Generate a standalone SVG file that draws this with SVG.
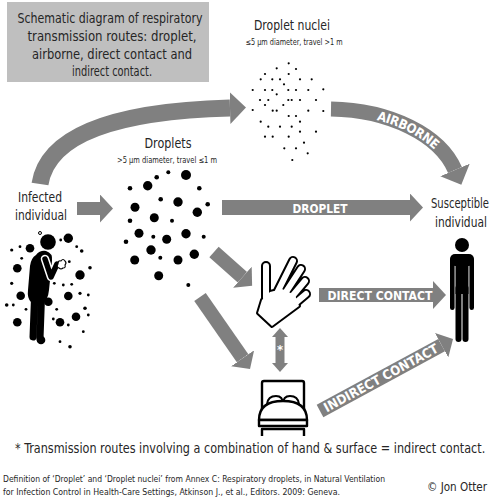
<svg xmlns="http://www.w3.org/2000/svg" width="492" height="504" viewBox="0 0 492 504">
<style>
.lbl{font-family:"DejaVu Sans Condensed","DejaVu Sans",sans-serif;font-stretch:condensed;fill:#262626}
.arw{fill:none;stroke:#808080;stroke-linecap:butt}
.atx{font-family:"DejaVu Sans Condensed","DejaVu Sans",sans-serif;font-stretch:condensed;font-weight:bold;fill:#fff;font-size:13px}
.ink{fill:#000}
.line{fill:#fff;stroke:#000;stroke-linejoin:round}
</style>
<defs>
<marker id="head" markerUnits="userSpaceOnUse" markerWidth="14" markerHeight="28" viewBox="0 0 14 28" refX="0" refY="14" orient="auto"><path d="M0,0 L13,14 L0,28 Z" fill="#808080"/></marker>
<marker id="headL" markerUnits="userSpaceOnUse" markerWidth="17" markerHeight="32" viewBox="0 0 17 32" refX="0" refY="16" orient="auto"><path d="M0,0 L16,16 L0,32 Z" fill="#808080"/></marker>
<marker id="headS" markerUnits="userSpaceOnUse" markerWidth="10" markerHeight="16" viewBox="0 0 10 16" refX="0" refY="8" orient="auto-start-reverse"><path d="M0,0 L9,8 L0,16 Z" fill="#808080"/></marker>
</defs>
<rect width="492" height="504" fill="#fff"/>

<!-- title box -->
<g id="title">
<rect x="7" y="2" width="202" height="80" fill="#bfbfbf"/>
<g class="lbl" font-size="14" text-anchor="middle">
<text x="110" y="23" textLength="185" lengthAdjust="spacingAndGlyphs">Schematic diagram of respiratory</text>
<text x="112" y="41" textLength="169" lengthAdjust="spacingAndGlyphs">transmission routes: droplet,</text>
<text x="112" y="59" textLength="160" lengthAdjust="spacingAndGlyphs">airborne, direct contact and</text>
<text x="112" y="76" textLength="80" lengthAdjust="spacingAndGlyphs">indirect contact.</text>
</g>
</g>

<!-- connectors -->
<g id="connectors">
<path id="arcInfected" class="arw" stroke-width="17" d="M40,184 C48,133 120,111 230,108" marker-end="url(#headL)"/>
<path id="arcAirborne" class="arw" stroke-width="15" d="M331,109 C390,110 440,135 455,170" marker-end="url(#headL)"/>
<path class="arw" stroke-width="13" d="M77,208.5 L100,208.5" marker-end="url(#head)"/>
<path class="arw" stroke-width="15" d="M222,207.5 L410,207.5" marker-end="url(#head)"/>
<path class="arw" stroke-width="14" d="M319,295 L433,295" marker-end="url(#head)"/>
<path class="arw" stroke-width="14" d="M214,252 L242.4,277.2" marker-end="url(#head)"/>
<path class="arw" stroke-width="14" d="M200,297 L242.6,358.3" marker-end="url(#head)"/>
<path class="arw" stroke-width="14" d="M320,411 L441.6,345.2" marker-end="url(#head)"/>
<path class="arw" stroke-width="9" d="M280,337 L280,363" marker-start="url(#headS)" marker-end="url(#headS)"/>
<text class="atx" x="320" y="212.5" text-anchor="middle" textLength="55" lengthAdjust="spacingAndGlyphs">DROPLET</text>
<text class="atx" x="380" y="300" text-anchor="middle" textLength="105" lengthAdjust="spacingAndGlyphs">DIRECT CONTACT</text>
<text class="atx" font-size="14" dominant-baseline="central"><textPath href="#arcAirborne" startOffset="56%" text-anchor="middle">AIRBORNE</textPath></text>
<text class="atx" x="381" y="378" text-anchor="middle" dominant-baseline="central" transform="rotate(-28.4 381 378)" textLength="128" lengthAdjust="spacingAndGlyphs" font-size="14">INDIRECT CONTACT</text>
<text class="atx" x="280" y="354" text-anchor="middle" font-size="10">*</text>
</g>

<!-- droplet nuclei -->
<g id="nuclei">
<text class="lbl" x="292" y="30" font-size="14" text-anchor="middle" textLength="76" lengthAdjust="spacingAndGlyphs">Droplet nuclei</text>
<text class="lbl" x="294" y="45" font-size="8" text-anchor="middle" textLength="97" lengthAdjust="spacingAndGlyphs">≤5 μm diameter,  travel &gt;1 m</text>
<g class="ink">
<circle cx="288.7" cy="63.3" r="1.1"/><circle cx="276.7" cy="68.3" r="1.1"/><circle cx="296" cy="69" r="1.1"/>
<circle cx="265" cy="74" r="1.1"/><circle cx="288.7" cy="74" r="1.1"/><circle cx="260.7" cy="79.3" r="1.1"/>
<circle cx="272.3" cy="79.3" r="1.1"/><circle cx="280" cy="79.3" r="1.1"/><circle cx="300" cy="79.3" r="1.1"/>
<circle cx="311.7" cy="79.3" r="1.1"/><circle cx="284" cy="84.3" r="1.1"/><circle cx="252.7" cy="90" r="1.1"/>
<circle cx="265" cy="90" r="1.1"/><circle cx="272.3" cy="90" r="1.1"/><circle cx="288.3" cy="90" r="1.1"/>
<circle cx="296" cy="90" r="1.1"/><circle cx="308.3" cy="90" r="1.1"/><circle cx="323.3" cy="89.3" r="1.1"/>
<circle cx="276.7" cy="94.3" r="1.1"/><circle cx="260" cy="100" r="1.1"/><circle cx="268.3" cy="100" r="1.1"/>
<circle cx="288.3" cy="100" r="1.1"/><circle cx="291.7" cy="100" r="1.1"/><circle cx="300" cy="100" r="1.1"/>
<circle cx="316" cy="100" r="1.1"/><circle cx="265" cy="105" r="1.1"/><circle cx="283.3" cy="105" r="1.1"/>
<circle cx="252.7" cy="110" r="1.1"/><circle cx="272.7" cy="110.7" r="1.1"/><circle cx="276.7" cy="110.7" r="1.1"/>
<circle cx="308.3" cy="110.7" r="1.1"/><circle cx="323.3" cy="111" r="1.1"/><circle cx="288.7" cy="116" r="1.1"/>
<circle cx="296" cy="116" r="1.1"/><circle cx="260.7" cy="121.7" r="1.1"/><circle cx="300" cy="121.7" r="1.1"/>
<circle cx="268.3" cy="126.7" r="1.1"/><circle cx="280" cy="126.7" r="1.1"/><circle cx="291.7" cy="126.7" r="1.1"/>
<circle cx="300" cy="131.7" r="1.1"/><circle cx="316" cy="131.7" r="1.1"/><circle cx="265" cy="136.7" r="1.1"/>
<circle cx="272.7" cy="136.7" r="1.1"/><circle cx="288.7" cy="136.7" r="1.1"/><circle cx="304" cy="142.7" r="1.1"/>
<circle cx="284.3" cy="148.3" r="1.1"/><circle cx="296" cy="148.3" r="1.1"/><circle cx="307.7" cy="153.3" r="1.1"/>
<circle cx="292.3" cy="160" r="1.1"/>
</g>
</g>

<!-- droplets -->
<g id="droplets">
<text class="lbl" x="168" y="148" font-size="14" text-anchor="middle" textLength="47" lengthAdjust="spacingAndGlyphs">Droplets</text>
<text class="lbl" x="167" y="163" font-size="8" text-anchor="middle" textLength="100" lengthAdjust="spacingAndGlyphs">&gt;5 μm diameter,  travel ≤1 m</text>
<g class="ink">
<circle cx="168.3" cy="172.3" r="2"/><circle cx="186" cy="175" r="5"/><circle cx="156.7" cy="177.3" r="2.3"/>
<circle cx="147.7" cy="185.7" r="4.7"/><circle cx="130" cy="188.3" r="2.3"/><circle cx="199.3" cy="188.3" r="2.3"/>
<circle cx="160.7" cy="199.3" r="2.3"/><circle cx="178" cy="202" r="4.7"/><circle cx="135" cy="207.3" r="4.5"/>
<circle cx="207.7" cy="204.3" r="2.3"/><circle cx="197.3" cy="212.3" r="4.7"/><circle cx="154.3" cy="217.7" r="4.5"/>
<circle cx="130" cy="220.7" r="2.3"/><circle cx="172" cy="220.7" r="2"/><circle cx="139" cy="233.3" r="4.5"/>
<circle cx="186" cy="233.7" r="4.7"/><circle cx="153.3" cy="236.7" r="2"/><circle cx="166.7" cy="239.3" r="4.5"/>
<circle cx="203.7" cy="236.7" r="2"/><circle cx="126" cy="241.7" r="2.3"/><circle cx="151" cy="250" r="4.7"/>
<circle cx="194.3" cy="254.3" r="4.7"/><circle cx="134.7" cy="260" r="4.5"/><circle cx="160.3" cy="257.7" r="2"/>
<circle cx="178" cy="260" r="4.5"/><circle cx="158.7" cy="275.7" r="4.5"/><circle cx="188.3" cy="285" r="2"/>
</g>
</g>

<!-- infected individual -->
<g id="infected">
<text class="lbl" x="40" y="202" font-size="14" text-anchor="middle" textLength="44" lengthAdjust="spacingAndGlyphs">Infected</text>
<text class="lbl" font-size="14" text-anchor="middle" transform="translate(41,220) scale(0.85,1)" textLength="61" lengthAdjust="spacingAndGlyphs">individual</text>
<g class="ink">
<circle cx="68.3" cy="238.3" r="4.7"/><circle cx="30" cy="248.3" r="4.3"/><circle cx="17.3" cy="268.3" r="4.3"/>
<circle cx="80" cy="275" r="4.7"/><circle cx="20.7" cy="295.7" r="4.3"/><circle cx="68.3" cy="296" r="4.3"/>
<circle cx="48.3" cy="301.7" r="4.3"/><circle cx="76" cy="316.7" r="4.3"/><circle cx="17.3" cy="322.3" r="4.3"/>
<circle cx="60" cy="322.3" r="4.3"/><circle cx="41" cy="340" r="4.3"/>
<circle cx="11.7" cy="250" r="1.6"/><circle cx="20" cy="246.7" r="1.4"/><circle cx="60.7" cy="240" r="1.4"/>
<circle cx="76.7" cy="246.7" r="1.4"/><circle cx="81.7" cy="251" r="1.8"/><circle cx="90" cy="267.7" r="1.8"/>
<circle cx="21.7" cy="258.3" r="1.4"/><circle cx="69.3" cy="261.7" r="1.4"/><circle cx="11.7" cy="283.3" r="1.6"/>
<circle cx="54.3" cy="283.3" r="1.4"/><circle cx="63.3" cy="285" r="1.4"/><circle cx="71.7" cy="284.3" r="1.4"/>
<circle cx="44" cy="289" r="1.4"/><circle cx="80" cy="293.3" r="1.6"/><circle cx="88.3" cy="295" r="1.4"/>
<circle cx="6.7" cy="305" r="1.8"/><circle cx="13.3" cy="305" r="1.4"/><circle cx="26" cy="309.3" r="1.4"/>
<circle cx="56.7" cy="309.3" r="1.4"/><circle cx="85" cy="308.3" r="1.8"/><circle cx="88.3" cy="315" r="1.4"/>
<circle cx="53.3" cy="319" r="1.4"/><circle cx="68.3" cy="325" r="1.4"/><circle cx="83.3" cy="331.7" r="1.4"/>
<circle cx="60" cy="341.7" r="1.4"/><circle cx="70" cy="346.7" r="1.8"/><circle cx="49.3" cy="278.3" r="1.4"/>
</g>
<!-- coughing figure -->
<circle class="ink" cx="48" cy="242" r="7.8"/>
<path class="ink" d="M36,255 Q40,250 46,251 Q53,253 52,261 L49,290 Q48,300 43,302 L31,302 Q27,298 28,290 L30,266 Q31,258 36,255 Z"/>
<path d="M34.5,298 L33,337 M41.5,298 L40,339" stroke="#000" stroke-width="7" stroke-linecap="round" fill="none"/>
<path d="M45,259 L51,277 L57,264" stroke="#fff" stroke-width="8.5" stroke-linecap="round" stroke-linejoin="round" fill="none"/>
<path d="M45,259 L51,277 L57,264" stroke="#000" stroke-width="5.5" stroke-linecap="round" stroke-linejoin="round" fill="none"/>
<path class="line" stroke-width="1.1" d="M58,264 Q58,260 61,261 Q63,258 65,261 Q67,263 65,265 Q66,268 63,268 Q61,270 59,268 Q56,267 58,264 Z"/>
<circle class="line" cx="40" cy="233" r="1.5" stroke-width="1"/>
</g>

<!-- susceptible individual -->
<g id="susceptible">
<text class="lbl" font-size="14" text-anchor="middle" transform="translate(460,208) scale(0.8,1)" textLength="72.5" lengthAdjust="spacingAndGlyphs">Susceptible</text>
<text class="lbl" font-size="14" text-anchor="middle" transform="translate(461,227) scale(0.85,1)" textLength="61" lengthAdjust="spacingAndGlyphs">individual</text>
<g class="ink">
<circle cx="462" cy="245" r="7"/>
<rect x="450" y="254" width="24" height="12" rx="5"/>
<rect x="450" y="258" width="4.6" height="52" rx="2.3"/>
<rect x="469.4" y="258" width="4.6" height="52" rx="2.3"/>
<rect x="455.5" y="258" width="13" height="36"/>
<rect x="455.5" y="285" width="6" height="57" rx="3"/>
<rect x="462.5" y="285" width="6" height="57" rx="3"/>
</g>
</g>

<!-- hand: outline drawn as a dark layer under a white layer of the same parts -->
<g id="hand" stroke-linecap="round" stroke-linejoin="round">
<g stroke="#000">
<path fill="#000" stroke-width="4" d="M258,313 L272,326 L299,306 L295,295 L282,289 L270,292 L262,300 Z"/>
<path fill="none" stroke-width="10" d="M266,298 L266,266 M278,291 L293,261 M284,295 L301,269 M289,300 L305,281 M293,305 L306,294"/>
</g>
<g stroke="#fff">
<path fill="#fff" stroke="none" d="M258,313 L272,326 L299,306 L295,295 L282,289 L270,292 L262,300 Z"/>
<path fill="none" stroke-width="6" d="M266,298 L266,266 M278,291 L293,261 M284,295 L301,269 M289,300 L305,281 M293,305 L306,294"/>
</g>
</g>

<!-- bed -->
<g id="bed" fill="#fff" stroke="#000" stroke-width="2.4" stroke-linejoin="round">
<path fill="none" d="M262,412 L262,383 Q262,381 264,381 L302,381 Q304,381 304,383 L304,412"/>
<path stroke-width="2" d="M267,404 Q268,396 276,396 Q283,396 283,404 Z"/>
<path stroke-width="2" d="M283,404 Q283,396 290,396 Q298,396 299,404 Z"/>
<path d="M259,420 Q259,401 283,401 Q307,401 307,420 Z"/>
<rect x="259" y="420" width="48" height="6"/>
<path fill="none" d="M262,436 L262,429 L304,429 L304,436"/>
</g>

<!-- notes -->
<g id="notes" class="lbl">
<text font-size="14" transform="translate(15,453) scale(0.855,1)" textLength="550" lengthAdjust="spacingAndGlyphs">* Transmission routes involving a combination of hand &amp; surface = indirect contact.</text>
<text x="3" y="482" font-size="9.5" textLength="382" lengthAdjust="spacingAndGlyphs">Definition of ‘Droplet’ and ‘Droplet nuclei’ from Annex C: Respiratory droplets, in Natural Ventilation</text>
<text x="3" y="495" font-size="9.5" textLength="337" lengthAdjust="spacingAndGlyphs">for Infection Control in Health-Care Settings, Atkinson J., et al., Editors. 2009: Geneva.</text>
<text font-size="13" text-anchor="end" transform="translate(487,491) scale(0.9,1)" textLength="66.7" lengthAdjust="spacingAndGlyphs">© Jon Otter</text>
</g>
</svg>
